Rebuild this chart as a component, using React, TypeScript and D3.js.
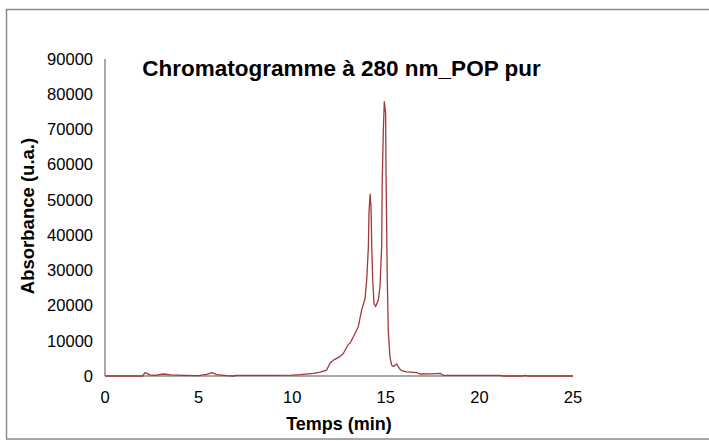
import React from "react";
import * as d3 from "d3";

const times: number[] = [0, 1.0, 2.0, 2.14, 2.23, 2.4, 2.67, 3.12, 3.5, 4.27, 5.0, 5.43, 5.7, 5.97, 6.5, 6.85, 7.0, 9.0, 10.0, 10.42, 11.13, 11.5, 11.84, 12.02, 12.2, 12.55, 12.73, 13.0, 13.09, 13.3, 13.53, 13.71, 13.89, 13.98, 14.07, 14.1, 14.16, 14.21, 14.25, 14.3, 14.37, 14.46, 14.6, 14.69, 14.78, 14.81, 14.87, 14.92, 14.99, 15.01, 15.08, 15.13, 15.22, 15.31, 15.4, 15.58, 15.76, 15.85, 16.1, 16.65, 16.83, 17.5, 17.9, 18.07, 20.0, 21.1, 21.3, 22.3, 22.44, 22.6, 24.0, 25.0];
const absorb: number[] = [0, 0, 0, 940, 750, 300, 200, 570, 300, 200, 100, 480, 940, 390, 100, 0, 200, 200, 250, 370, 750, 1100, 1700, 3600, 4500, 5500, 6400, 9000, 9300, 11500, 14000, 18700, 22000, 27300, 36700, 46200, 51600, 48100, 36700, 27300, 20600, 19700, 21600, 25400, 36700, 55700, 69900, 77900, 74600, 58500, 27300, 13100, 5500, 3100, 2700, 3400, 1900, 1500, 1200, 940, 570, 600, 750, 200, 200, 200, 0, 0, 200, 0, 0, 0];

const xTicks: number[] = [0, 5, 10, 15, 20, 25];
const yTicks: number[] = [0, 10000, 20000, 30000, 40000, 50000, 60000, 70000, 80000, 90000];

const title = "Chromatogramme à 280 nm_POP pur";
const xLabel = "Temps (min)";
const yLabel = "Absorbance (u.a.)";

export default function App() {
  const W = 709, H = 441;
  const left = 105, right = 573, top = 59, bottom = 376;
  const x = d3.scaleLinear().domain([0, 25]).range([left, right]);
  const y = d3.scaleLinear().domain([0, 90000]).range([bottom, top]);
  const data = times.map((t, i) => [t, absorb[i]] as [number, number]);
  const line = d3.line<[number, number]>().x(d => x(d[0])).y(d => y(d[1])).curve(d3.curveLinear);
  const font = "Liberation Sans, Arial, sans-serif";
  return (
    <svg width={W} height={H} style={{ position: "absolute", left: 0, top: 0 }} fontFamily={font}>
      <rect x={0} y={0} width={W} height={H} fill="#fff" />
      <rect x={6.5} y={9.5} width={W + 10} height={429.5} fill="none" stroke="#8a8a8a" strokeWidth={1.5} />
      <line x1={left} x2={left} y1={top} y2={bottom} stroke="#8a8a8a" strokeWidth={1.5} />
      <line x1={left} x2={right} y1={bottom} y2={bottom} stroke="#8a8a8a" strokeWidth={1.5} />
      {yTicks.map(v => (
        <text key={v} x={93} y={y(v)} dy="0.35em" textAnchor="end" fontSize={16.5} fill="#000">{v}</text>
      ))}
      {xTicks.map(v => (
        <text key={v} x={x(v)} y={397} dy="0.35em" textAnchor="middle" fontSize={16.5} fill="#000">{v}</text>
      ))}
      <path d={line(data) || ""} fill="none" stroke="#a3383a" strokeWidth={1.3} strokeLinejoin="round" />
      <text x={341.5} y={68} dy="0.35em" textAnchor="middle" fontSize={22.5} fontWeight="bold" fill="#000">{title}</text>
      <text x={339} y={424} dy="0.35em" textAnchor="middle" fontSize={18} fontWeight="bold" fill="#000">{xLabel}</text>
      <text transform={`translate(28,216) rotate(-90)`} dy="0.35em" textAnchor="middle" fontSize={18.5} fontWeight="bold" fill="#000">{yLabel}</text>
    </svg>
  );
}
